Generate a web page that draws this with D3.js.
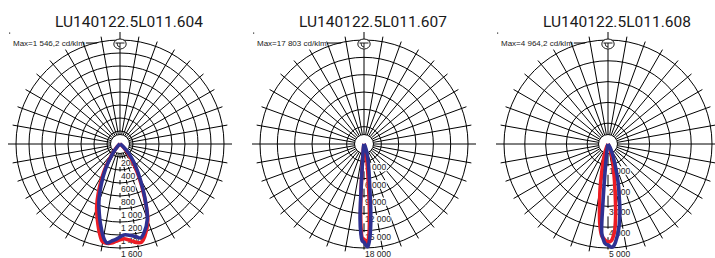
<!DOCTYPE html>
<html><head><meta charset="utf-8">
<script src="https://cdn.jsdelivr.net/npm/d3@7"></script>
<style>body{margin:0;background:#fff;} svg{display:block;background:#fff}</style>
</head><body><svg id="c" width="715" height="258"></svg>
<script>
// ---------- data ----------
const titles = ["LU140122.5L011.604", "LU140122.5L011.607", "LU140122.5L011.608"];
const maxLabels = ["Max=1 546,2 cd/klm", "Max=17 803 cd/klm", "Max=4 964,2 cd/klm"];
const ringLabels1 = ["200", "400", "600", "800", "1 000", "1 200", "1 400", "1 600"];
const ringLabels2 = ["3 000", "6 000", "9 000", "12 000", "15 000", "18 000"];
const ringLabels3 = ["1 000", "2 000", "3 000", "4 000", "5 000"];
const ringValues1 = [200, 400, 600, 800, 1000, 1200, 1400, 1600];
const ringValues2 = [3000, 6000, 9000, 12000, 15000, 18000];
const ringValues3 = [1000, 2000, 3000, 4000, 5000];

// chart 1 (gamma in degrees, cd/klm)
const gamma1 = [0, 2.5, 5, 7.5, 10, 12.5, 15, 20, 25, 30, 35, 40, 45, 50, 55, 60, 70, 90];
const blueLeft1  = [1430, 1470, 1500, 1536, 1460, 1330, 1200, 950, 680, 450, 250, 130, 60, 25, 10, 0, 0, 0];
const blueRight1 = [1430, 1400, 1405, 1425, 1450, 1480, 1420, 1230, 900, 620, 420, 270, 150, 70, 30, 10, 0, 0];
const redLeft1   = [1475, 1500, 1530, 1540, 1530, 1430, 1300, 1050, 760, 500, 280, 140, 60, 20, 0, 0, 0, 0];
const redRight1  = [1475, 1460, 1480, 1510, 1540, 1546, 1470, 1250, 880, 580, 360, 200, 100, 40, 10, 0, 0, 0];

// chart 2
const gamma2 = [0, 1, 2, 3, 4, 5, 6, 8, 10, 12, 15, 20, 25, 30, 40, 90];
const blueLeft2  = [17000, 16800, 15500, 13000, 6000, 3000, 1800, 900, 500, 300, 150, 0, 0, 0, 0, 0];
const blueRight2 = [17000, 17500, 17803, 17000, 15500, 13500, 11000, 7000, 5000, 3800, 2500, 1200, 500, 200, 0, 0];
const redLeft2   = [16500, 16300, 14500, 11000, 6000, 3000, 1500, 600, 200, 100, 0, 0, 0, 0, 0, 0];
const redRight2  = [16500, 16900, 17100, 16000, 13500, 10500, 7500, 4500, 2800, 1800, 1000, 300, 100, 0, 0, 0];

// chart 3
const gamma3 = [0, 1, 2, 3, 4, 5, 6, 7, 8, 10, 12, 14, 16, 20, 25, 30, 40, 90];
const blueLeft3  = [4850, 4830, 4750, 4550, 4300, 2700, 1400, 800, 500, 250, 120, 60, 20, 0, 0, 0, 0, 0];
const blueRight3 = [4850, 4920, 4964, 4930, 4800, 4600, 4400, 4150, 3900, 3300, 2600, 2100, 1600, 900, 450, 200, 0, 0];
const redLeft3   = [4700, 4680, 4600, 4520, 4400, 4150, 3800, 3350, 2900, 2200, 1500, 1100, 800, 400, 150, 0, 0, 0];
const redRight3  = [4700, 4700, 4650, 4500, 4300, 3950, 3500, 3000, 2500, 1800, 1300, 1000, 750, 350, 120, 0, 0, 0];

const charts = [
  {title: titles[0], max: maxLabels[0], ringLabels: ringLabels1, ringValues: ringValues1, gamma: gamma1,
   red: [redLeft1, redRight1], blue: [blueLeft1, blueRight1]},
  {title: titles[1], max: maxLabels[1], ringLabels: ringLabels2, ringValues: ringValues2, gamma: gamma2,
   red: [redLeft2, redRight2], blue: [blueLeft2, blueRight2]},
  {title: titles[2], max: maxLabels[2], ringLabels: ringLabels3, ringValues: ringValues3, gamma: gamma3,
   red: [redLeft3, redRight3], blue: [blueLeft3, blueRight3]}
];

// ---------- layout ----------
const centersX = [120, 364, 608];
const cy = 144, R = 104, hubR = 9.5;
const RED = "#ec1c24", BLUE = "#2e3192";
const GRID = "#000", GW = 1;
const svg = d3.select("#c");
const rad = Math.PI / 180;

charts.forEach((ch, i) => {
  const cx = centersX[i];
  const g = svg.append("g").attr("transform", `translate(${cx},${cy})`);
  const rScale = d3.scaleLinear().domain([0, d3.max(ch.ringValues)]).range([0, R]);

  // title
  svg.append("text").attr("x", cx + 9).attr("y", 26.5).attr("text-anchor", "middle")
    .attr("font-family", "Roboto, 'Liberation Sans', sans-serif").attr("font-size", 15.5)
    .attr("fill", "#1a1a1a").text(ch.title);

  // rings
  g.selectAll("circle.ring").data(ch.ringValues).join("circle").attr("class", "ring")
    .attr("r", d => rScale(d)).attr("fill", "none").attr("stroke", GRID).attr("stroke-width", GW);

  // radial lines
  const angles = d3.range(0, 360, 10);
  g.selectAll("line.rad").data(angles).join("line").attr("class", "rad")
    .attr("x1", a => hubR * Math.sin(a * rad)).attr("y1", a => -hubR * Math.cos(a * rad))
    .attr("x2", a => (R + (a % 90 === 0 ? 8 : 5)) * Math.sin(a * rad))
    .attr("y2", a => -(R + (a % 90 === 0 ? 8 : 5)) * Math.cos(a * rad))
    .attr("stroke", GRID).attr("stroke-width", GW);

  // hub
  g.append("circle").attr("r", hubR).attr("fill", "#fff").attr("stroke", GRID).attr("stroke-width", GW);

  // ring value labels
  const lab = g.selectAll("g.lab").data(ch.ringValues).join("g").attr("class", "lab")
    .attr("transform", d => `translate(1,${rScale(d) + 9})`);
  lab.append("rect").attr("class", "bg");
  lab.append("text").attr("font-family", "'Liberation Sans', Arial, sans-serif").attr("font-size", 8.5)
    .attr("fill", "#222").text((d, j) => ch.ringLabels[j]);
  lab.each(function () {
    const t = d3.select(this).select("text").node();
    const w = t.getComputedTextLength();
    d3.select(this).select("rect").attr("x", -2.5).attr("y", -7.5).attr("width", w + 3).attr("height", 8.5).attr("fill", "#fff");
  });

  // max label
  const mt = svg.append("text").attr("x", cx - 107).attr("y", 46)
    .attr("font-family", "'Liberation Sans', Arial, sans-serif").attr("font-size", 8).attr("fill", "#222").text(ch.max);
  const mw = mt.node().getComputedTextLength();
  const ly = 43, lx = cx - Math.sqrt(R * R - (cy - ly) * (cy - ly));
  svg.append("line").attr("x1", cx - 107 + mw + 1).attr("x2", lx + 2).attr("y1", ly).attr("y2", ly)
    .attr("stroke", GRID).attr("stroke-width", GW);
  svg.append("rect").attr("x", cx - 111).attr("y", 32.5).attr("width", 1.2).attr("height", 1.2).attr("fill", "#333");

  // luminaire icon
  const ic = g.append("g").attr("transform", `translate(0,${-R + 4})`);
  ic.append("ellipse").attr("rx", 6.2).attr("ry", 5).attr("fill", "#fff").attr("stroke", GRID).attr("stroke-width", 0.9);
  ic.append("line").attr("x1", -4.5).attr("x2", 4.5).attr("y1", -1).attr("y2", -1).attr("stroke", GRID).attr("stroke-width", 0.9);
  ic.append("line").attr("x1", 0).attr("x2", 0).attr("y1", -1).attr("y2", 4).attr("stroke", GRID).attr("stroke-width", 0.9);
  ic.append("path").attr("d", "M-3,-1 Q-3,3 0,3").attr("fill", "none").attr("stroke", GRID).attr("stroke-width", 0.8);

  // curves
  const line = d3.lineRadial().angle(d => d.a).radius(d => rScale(d.v)).curve(d3.curveCatmullRom.alpha(0.5));
  function pts(pair) {
    const left = ch.gamma.map((gm, k) => ({a: Math.PI + gm * rad, v: pair[0][k]})).reverse();
    const right = ch.gamma.map((gm, k) => ({a: Math.PI - gm * rad, v: pair[1][k]})).slice(1);
    return left.concat(right);
  }
  g.append("path").attr("d", line(pts(ch.red))).attr("fill", "none").attr("stroke", RED)
    .attr("stroke-width", 3.6).attr("stroke-linejoin", "round");
  g.append("path").attr("d", line(pts(ch.blue))).attr("fill", "none").attr("stroke", BLUE)
    .attr("stroke-width", 3.6).attr("stroke-linejoin", "round");
});
</script></body></html>
